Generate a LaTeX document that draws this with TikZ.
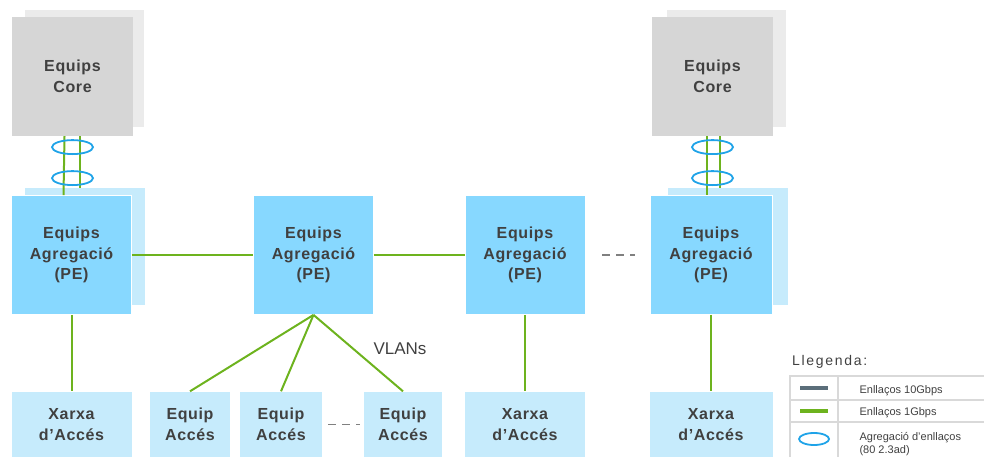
\documentclass[tikz,border=0pt]{standalone}
\usepackage{fontspec}
\setmainfont{Liberation Sans}
\usepackage{xcolor}
\usetikzlibrary{positioning, shapes.geometric}

\definecolor{coregray}{HTML}{D6D6D6}
\definecolor{corelight}{HTML}{EBEBEB}
\definecolor{aggblue}{HTML}{87D8FF}
\definecolor{acclight}{HTML}{C6EBFC}
\definecolor{linkgreen}{HTML}{6DB31E}
\definecolor{lagblue}{HTML}{1FA3E8}
\definecolor{tengray}{HTML}{5B6E7A}
\definecolor{txtgray}{HTML}{404040}
\definecolor{gridgray}{HTML}{D9D9D9}

\begin{document}
\begin{tikzpicture}[
    x=1pt, y=-1pt,
    every node/.style={font=\fontsize{16}{20.5}\selectfont\bfseries\addfontfeature{LetterSpace=4}, text=txtgray, align=center},
    core/.style={
        rectangle,
        fill=coregray,
        minimum width=121pt,
        minimum height=119pt
    },
    coreback/.style={
        rectangle,
        fill=corelight,
        minimum width=119pt,
        minimum height=117pt
    },
    agg/.style={
        rectangle,
        fill=aggblue,
        draw=white, line width=0.8pt,
        minimum width=120pt,
        minimum height=119pt
    },
    aggback/.style={
        rectangle,
        fill=acclight,
        minimum width=120pt,
        minimum height=117pt
    },
    acces/.style={
        rectangle,
        fill=acclight,
        minimum height=66pt
    },
    link/.style={linkgreen, line width=2pt},
    bundle/.style={
        ellipse,
        draw=lagblue, line width=1.8pt,
        minimum width=41pt,
        minimum height=14pt,
        inner sep=0pt
    },
    gap/.style={gray, line width=1.4pt, dash pattern=on 8pt off 6pt},
    legtext/.style={font=\fontsize{11}{13.5}\selectfont, anchor=west, align=left}
]
\useasboundingbox (0,0) rectangle (984,457);

% core layer
\node (coreAback) [coreback] at (84.5,68.5) {};
\node (coreA)     [core]     at (72.5,76.5) {Equips\\Core};
\node (coreDback) [coreback] at (726.5,68.5) {};
\node (coreD)     [core]     at (712.5,76.5) {Equips\\Core};

% aggregation layer
\node (aggAback) [aggback] at (85,246.5) {};
\node (aggA)     [agg]     at (71.5,255) {Equips\\Agregació\\(PE)};
\node (aggB)     [agg]     at (313.5,255) {Equips\\Agregació\\(PE)};
\node (aggC)     [agg]     at (525,255) {Equips\\Agregació\\(PE)};
\node (aggDback) [aggback] at (727.5,246.5) {};
\node (aggD)     [agg, minimum width=122pt] at (711,255) {Equips\\Agregació\\(PE)};

% access layer
\node (xarxaA) [acces, minimum width=120pt] at (71.5,424.5) {Xarxa\\d’Accés};
\node (equip1) [acces, minimum width=80pt]  at (190,424.5) {Equip\\Accés};
\node (equip2) [acces, minimum width=82pt]  at (281,424.5) {Equip\\Accés};
\node (equip3) [acces, minimum width=78pt]  at (403,424.5) {Equip\\Accés};
\node (xarxaC) [acces, minimum width=120pt] at (525,424.5) {Xarxa\\d’Accés};
\node (xarxaD) [acces, minimum width=123pt] at (711,424.5) {Xarxa\\d’Accés};

% core uplinks with link aggregation
\draw [link] ([xshift=-8pt]coreA.south) -- ([xshift=-8pt]aggA.north);
\draw [link] ([xshift=7pt]coreA.south) -- ([xshift=7pt]coreA.south |- aggAback.north);
\node (lagA1) [bundle, below=3pt of coreA.south] {};
\node (lagA2) [bundle, below=34pt of coreA.south] {};
\draw [link] ([xshift=-6pt]coreD.south) -- ([xshift=-6pt]coreD.south |- aggD.north);
\draw [link] ([xshift=7pt]coreD.south) -- ([xshift=7pt]coreD.south |- aggDback.north);
\node (lagD1) [bundle, below=3pt of coreD.south] {};
\node (lagD2) [bundle, below=34pt of coreD.south] {};

% ring between aggregation nodes
\draw [link] (aggA.east) -- (aggB.west);
\draw [link] (aggB.east) -- (aggC.west);
\draw [gap] ([xshift=17pt]aggC.east) -- ([xshift=-15pt]aggD.west);

% downlinks
\draw [link] (aggA.south) -- (xarxaA.north);
\draw [link] (aggC.south) -- (xarxaC.north);
\draw [link] (aggD.south) -- (xarxaD.north);
\draw [link] (aggB.south) -- (equip1.north);
\draw [link] (aggB.south) -- (equip2.north);
\draw [link] (aggB.south) -- (equip3.north);
\draw [gap] ([xshift=6pt]equip2.east) -- ([xshift=-4pt]equip3.west);
\node (vlans) [font=\fontsize{17}{19}\selectfont] at (400,349) {VLANs};

% legend
\node (legtitle) [font=\fontsize{14}{16}\selectfont\addfontfeature{LetterSpace=12}, anchor=west, inner sep=0pt] at (792,362) {Llegenda:};
\draw [gridgray, line width=1.2pt] (790,376) rectangle (990,470);
\draw [gridgray, line width=1.2pt] (790,400) -- (990,400);
\draw [gridgray, line width=1.2pt] (790,422) -- (990,422);
\draw [gridgray, line width=1.2pt] (838,376) -- (838,470);
\coordinate (ten1) at (800,388);
\coordinate (ten2) at (828,388);
\draw [tengray, line width=3.5pt] (ten1) -- (ten2);
\coordinate (one1) at (800,411);
\coordinate (one2) at (828,411);
\draw [linkgreen, line width=3.5pt] (one1) -- (one2);
\node (legbundle) [bundle, minimum width=30pt, minimum height=12pt] at (814,439) {};
\node (leg10) [legtext] at (856,391) {Enllaços 10Gbps};
\node (leg1)  [legtext] at (856,413) {Enllaços 1Gbps};
\node (legag) [legtext] at (856,444) {Agregació d’enllaços\\(80 2.3ad)};

\end{tikzpicture}
\end{document}
